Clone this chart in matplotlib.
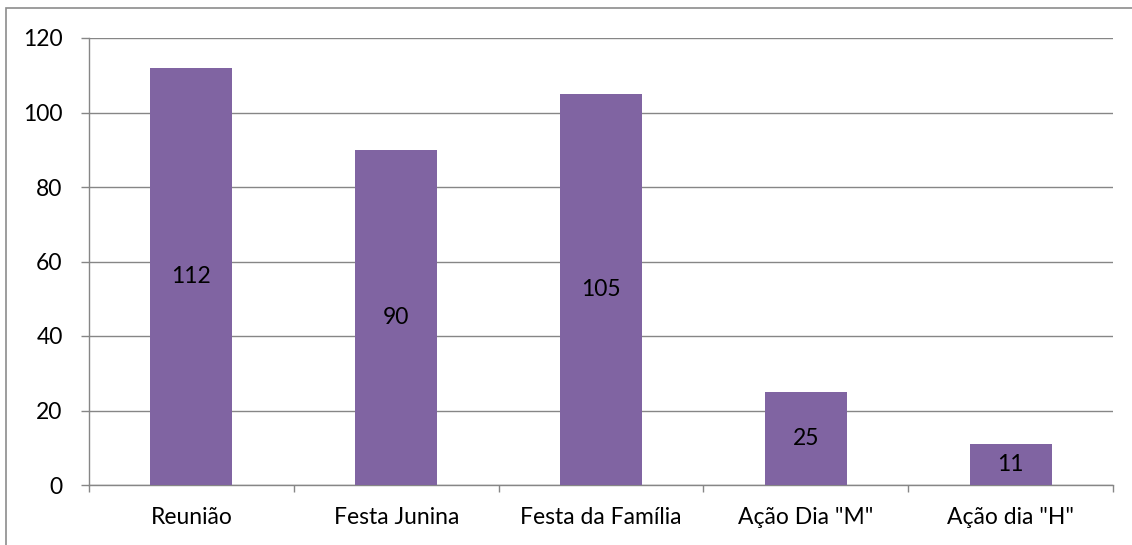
import matplotlib
matplotlib.use("Agg")
import matplotlib.pyplot as plt
from matplotlib.patches import Rectangle
import numpy as np

categories = ['Reunião', 'Festa Junina', 'Festa da Família', 'Ação Dia "M"', 'Ação dia "H"']
values = [112, 90, 105, 25, 11]
yticks = [0, 20, 40, 60, 80, 100, 120]

plt.rcParams['font.family'] = ['Lato', 'DejaVu Sans']

W, H = 1132, 545
fig = plt.figure(figsize=(W / 100, H / 100), dpi=100)
fig.patch.set_facecolor('white')

# outer chart border (only left/top visible in the crop)
fig.patches.append(Rectangle((6 / W, -0.1), 1.2, 1 - 8 / H + 0.1, transform=fig.transFigure,
                             fill=False, edgecolor='#8c8c8c', linewidth=1.2))

ax = fig.add_axes([89 / W, 1 - 485 / H, (1113 - 89) / W, (485 - 38) / H])
grid_c = '#868686'
fs = 16.5

x = np.arange(len(categories))
bars = ax.bar(x, values, width=0.4, color='#8064A2', zorder=3)
for b, v in zip(bars, values):
    ax.text(b.get_x() + b.get_width() / 2, v / 2, str(v), ha='center', va='center',
            fontsize=fs, color='black', zorder=4)

ax.set_xlim(-0.5, len(categories) - 0.5)
ax.set_ylim(0, 120)
ax.set_yticks(yticks)
ax.tick_params(axis='y', labelsize=fs, length=6, width=1, color=grid_c, pad=13)
ax.yaxis.grid(True, color=grid_c, linewidth=1, zorder=0)

ax.set_xticks(x)
ax.set_xticklabels(categories, fontsize=fs)
ax.tick_params(axis='x', length=0, pad=16)
ax.set_xticks(np.arange(-0.5, len(categories)), minor=True)
ax.tick_params(axis='x', which='minor', length=5, width=1, color=grid_c)

for s in ['top', 'right']:
    ax.spines[s].set_visible(False)
for s in ['left', 'bottom']:
    ax.spines[s].set_color(grid_c)
    ax.spines[s].set_linewidth(1)

fig.savefig('out.png', dpi=100)
